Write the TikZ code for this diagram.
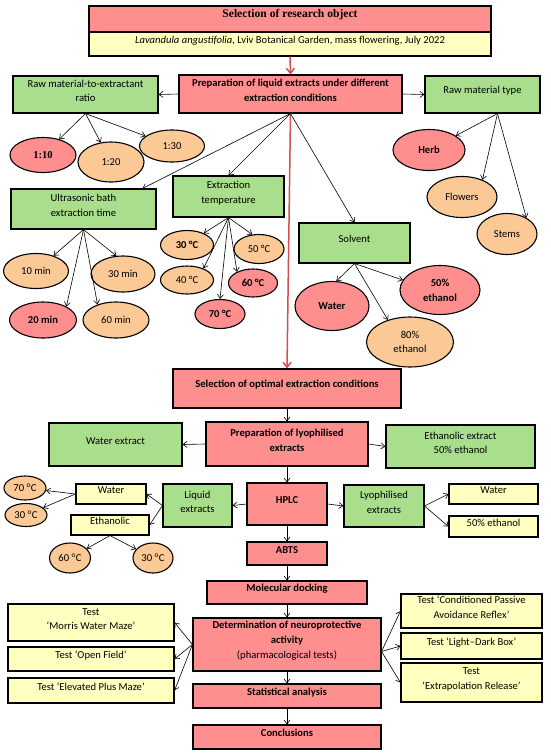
\documentclass[tikz,border=0pt]{standalone}
\usepackage{fontspec}
\setmainfont{Carlito}
\newfontfamily\timesfont{Liberation Serif}
\usetikzlibrary{arrows.meta, positioning, fit, shapes.geometric}

\definecolor{boxred}{RGB}{255,143,143}
\definecolor{boxgreen}{RGB}{169,222,140}
\definecolor{boxyellow}{RGB}{255,255,191}
\definecolor{ovalpeach}{RGB}{251,201,150}
\definecolor{arrowred}{RGB}{214,78,78}

\begin{document}
\begin{tikzpicture}[x=1pt, y=-1pt, font=\fontsize{10.6}{14.8}\selectfont,
	box/.style={draw=black, line width=1.1pt, inner sep=0pt, align=center},
	redbox/.style={box, fill=boxred, font=\fontsize{10.6}{14.8}\selectfont\bfseries},
	greenbox/.style={box, fill=boxgreen},
	yellowbox/.style={box, fill=boxyellow},
	oval/.style={ellipse, draw=black, line width=1.1pt, inner sep=0pt, align=center},
	peach/.style={oval, fill=ovalpeach},
	redoval/.style={oval, fill=boxred, font=\fontsize{10.6}{14.8}\selectfont\bfseries},
	link/.style={-{Straight Barb[length=4pt, width=6pt]}, line width=0.6pt},
	mainlink/.style={-{Straight Barb[length=5pt, width=8pt]}, line width=1.5pt, draw=arrowred}]
	\path[use as bounding box, fill=white] (0,0) rectangle (550,756);

	% research object
	\node[redbox, fit={(89,6) (491,32)}, font=\fontsize{11.6}{13}\selectfont\timesfont\bfseries] (title) {Selection of research object};
	\node[yellowbox, fit={(89,32) (491,56)}] (origin) {\textit{Lavandula angustifolia}, Lviv Botanical Garden, mass flowering, July 2022};

	% liquid extracts
	\node[redbox, fit={(179,75) (402,113)}] (prep) {Preparation of liquid extracts under different\\extraction conditions};
	\node[greenbox, fit={(13,76) (158,113)}] (ratio) {Raw material-to-extractant\\ratio};
	\node[greenbox, fit={(425,76) (540,113)}] (rawtype) {Raw material type};
	\node[greenbox, fit={(11,189) (156,229)}] (ultra) {Ultrasonic bath\\extraction time};
	\node[greenbox, fit={(173,176) (284,217)}] (temp) {Extraction\\temperature};
	\node[greenbox, fit={(299,223) (410,263)}] (solv) {Solvent};

	\node[redoval, minimum width=66pt, minimum height=35pt] (r110) at (43,155) {\timesfont 1:10};
	\node[peach, minimum width=66pt, minimum height=40pt] (r120) at (111,162) {1:20};
	\node[peach, minimum width=65pt, minimum height=32pt] (r130) at (172,146) {1:30};

	\node[redoval, minimum width=72pt, minimum height=41pt] (herb) at (429,150) {Herb};
	\node[peach, minimum width=70pt, minimum height=41pt] (flowers) at (462,197) {Flowers};
	\node[peach, minimum width=60pt, minimum height=41pt] (stems) at (507,234) {Stems};

	\node[peach, minimum width=65pt, minimum height=35pt] (m10) at (36,271) {10 min};
	\node[peach, minimum width=64pt, minimum height=36pt] (m30) at (123,274) {30 min};
	\node[redoval, minimum width=67pt, minimum height=36pt] (m20) at (43,320) {20 min};
	\node[peach, minimum width=66pt, minimum height=36pt] (m60) at (116,320) {60 min};

	\node[peach, minimum width=53pt, minimum height=29pt, font=\fontsize{10.6}{14.8}\selectfont\bfseries] (t30) at (187,245) {30 °C};
	\node[peach, minimum width=50pt, minimum height=29pt] (t50) at (259,249) {50 °C};
	\node[peach, minimum width=53pt, minimum height=28pt] (t40) at (187,280) {40 °C};
	\node[redoval, minimum width=49pt, minimum height=28pt] (t60) at (253,283) {60 °C};
	\node[redoval, minimum width=50pt, minimum height=29pt] (t70) at (220,314) {70 °C};

	\node[redoval, minimum width=74pt, minimum height=49pt] (wat) at (332,306) {Water};
	\node[redoval, minimum width=80pt, minimum height=49pt] (e50) at (440,290) {50\%\\ethanol};
	\node[peach, minimum width=87pt, minimum height=50pt] (e80) at (410,342) {80\%\\ethanol};

	% lyophilised extracts and analysis
	\node[redbox, fit={(173,369) (401,408)}] (selopt) {Selection of optimal extraction conditions};
	\node[redbox, fit={(206,422) (368,466)}] (prlyo) {Preparation of lyophilised\\extracts};
	\node[greenbox, fit={(49,423) (182,466)}] (wext) {Water extract\\[6pt]};
	\node[greenbox, fit={(386,425) (535,468)}] (eext) {Ethanolic extract\\50\% ethanol};
	\node[redbox, fit={(247,483) (327,525)}] (hplc) {HPLC\\[4pt]};
	\node[greenbox, fit={(163,484) (232,527)}] (liq) {Liquid\\extracts};
	\node[greenbox, fit={(344,485) (424,527)}] (lyo) {Lyophilised\\extracts};
	\node[yellowbox, fit={(76,484) (146,504)}] (ywat) {Water};
	\node[yellowbox, fit={(71,515) (149,535)}] (yeth) {Ethanolic};
	\node[yellowbox, fit={(449,484) (538,504)}] (lywat) {Water};
	\node[yellowbox, fit={(449,516) (538,537)}] (lyeth) {50\% ethanol};

	\node[peach, minimum width=42pt, minimum height=24pt] (c70) at (25,488) {70 \textsuperscript{o}C};
	\node[peach, minimum width=42pt, minimum height=23pt] (c30a) at (26,515) {30 \textsuperscript{o}C};
	\node[peach, minimum width=41pt, minimum height=30pt] (c60) at (70,558) {60 \textsuperscript{o}C};
	\node[peach, minimum width=40pt, minimum height=30pt] (c30b) at (153,558) {30 \textsuperscript{o}C};

	\node[redbox, fit={(247,542) (327,565)}] (abts) {ABTS};
	\node[redbox, fit={(207,581) (367,604)}] (dock) {Molecular docking};
	\node[redbox, fit={(193,618) (381,671)}] (det) {Determination of neuroprotective\\activity\\\textmd{(pharmacological tests)}};
	\node[redbox, fit={(193,684) (381,708)}] (stat) {Statistical analysis};
	\node[redbox, fit={(193,725) (381,749)}] (concl) {Conclusions};

	% pharmacological tests
	\node[yellowbox, fit={(8,604) (174,641)}] (tmwm) {Test\\‘Morris Water Maze’};
	\node[yellowbox, fit={(8,647) (174,671)}] (tof) {Test ‘Open Field’};
	\node[yellowbox, fit={(8,678) (174,703)}] (tepm) {Test ‘Elevated Plus Maze’};
	\node[yellowbox, fit={(401,594) (542,628)}] (tcpar) {Test ‘Conditioned Passive\\Avoidance Reflex’};
	\node[yellowbox, fit={(401,633) (542,659)}] (tldb) {Test ‘Light–Dark Box’};
	\node[yellowbox, fit={(401,663) (542,702)}] (ter) {Test\\‘Extrapolation Release’};

	% connectors
	\draw[mainlink] (origin.south) -- (prep.north);
	\draw[mainlink] (prep.south) -- (selopt.north);
	\draw[link] (prep.west) -- (ratio.east);
	\draw[link] (prep.east) -- (rawtype.west);
	\draw[link] (prep.south) -- ([xshift=-14pt]ultra.north east);
	\draw[link] (prep.south) -- (temp.north);
	\draw[link] (prep.south) -- (solv.north);
	\foreach \o in {r110, r120, r130}
		\draw[link] (ratio.south) -- (\o);
	\foreach \o in {herb, flowers.40, stems.40}
		\draw[link] ([xshift=15pt]rawtype.south) -- (\o);
	\foreach \o in {m10, m30.110, m20.30, m60.140}
		\draw[link] (ultra.south) -- (\o);
	\foreach \o in {t30.35, t40.35, t50.115, t60.145, t70.north}
		\draw[link] (temp.south) -- (\o);
	\foreach \o in {wat.80, e50.165, e80.135}
		\draw[link] (solv.south) -- (\o);

	\draw[link] (selopt.south) -- (prlyo.north);
	\draw[link] (prlyo.west) -- (wext.east);
	\draw[link] (prlyo.east) -- (eext.west);
	\draw[link] (prlyo.south) -- (hplc.north);
	\draw[link] (hplc.west) -- (liq.east);
	\draw[link] (hplc.east) -- (lyo.west);
	\draw[link] (liq.west) -- (ywat.east);
	\draw[link] (liq.west) -- (yeth.east);
	\draw[link] (ywat.west) -- (c70);
	\draw[link] (ywat.west) -- (c30a);
	\draw[link] (yeth.south) -- (c60);
	\draw[link] (yeth.south) -- (c30b);
	\draw[link] (lyo.east) -- (lywat.west);
	\draw[link] (lyo.east) -- (lyeth.west);
	\draw[link] (hplc.south) -- (abts.north);
	\draw[link] (abts.south) -- (dock.north);
	\draw[link] (dock.south) -- (det.north);
	\draw[link] (det.south) -- (stat.north);
	\draw[link] (stat.south) -- (concl.north);
	\foreach \t in {tmwm, tof, tepm}
		\draw[link] (det.west) -- (\t.east);
	\foreach \t in {tcpar, tldb, ter}
		\draw[link] ([yshift=-7pt]det.east) -- (\t.west);
\end{tikzpicture}
\end{document}
